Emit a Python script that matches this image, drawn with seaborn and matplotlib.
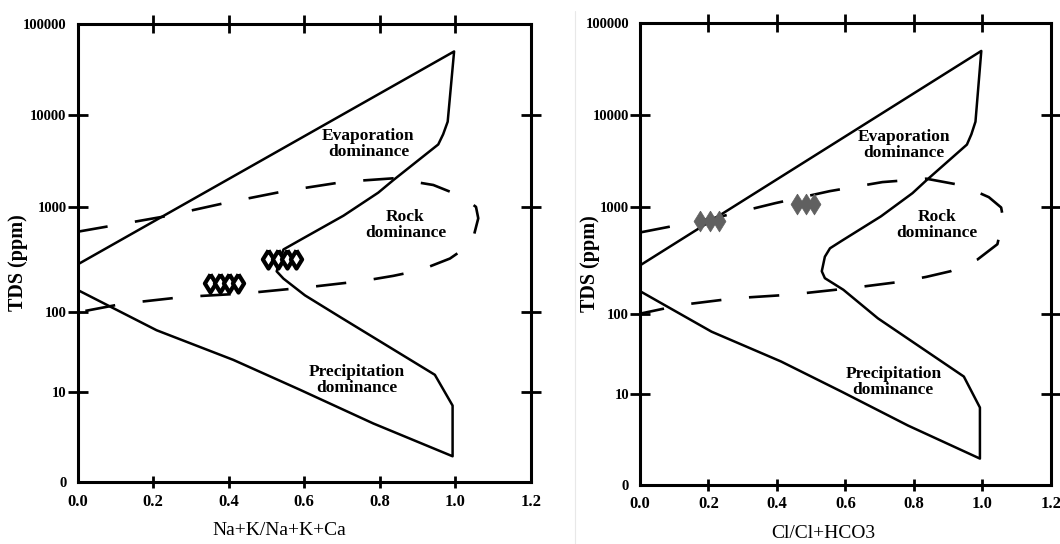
import numpy as np
import matplotlib
matplotlib.use('Agg')
import matplotlib.pyplot as plt
import seaborn as sns

# Gibbs envelope (same template in both panels, only the nose differs)
upper_x = [0.0, 0.997, 0.98, 0.968, 0.955, 0.836, 0.796, 0.704, 0.589]
upper_y = [285, 50000, 8500, 6200, 4800, 1960, 1430, 826, 485]
nose1_x = [0.545, 0.527, 0.545, 0.602]
nose1_y = [395, 245, 209, 145]
nose2_x = [0.555, 0.540, 0.531, 0.540, 0.594]
nose2_y = [413, 344, 251, 216, 168]
lower_x = [0.695, 0.946, 0.993, 0.993, 0.783, 0.589, 0.412, 0.209, 0.0]
lower_y = [87.5, 16.5, 7.1, 1.95, 4.5, 10.7, 25.4, 59.7, 163]

# rock dominance (dashed) boundary
dash_x = [0.0, 0.086, 0.227, 0.395, 0.554, 0.708, 0.836, 0.942, 1.019, 1.055, 1.061,
          1.044, 0.986, 0.907, 0.836, 0.757, 0.615, 0.439, 0.280, 0.121, 0.0]
dash_y = [582, 659, 809, 1114, 1503, 1884, 2051, 1734, 1294, 1000, 780,
          451, 324, 251, 222, 199, 174, 151, 140, 121, 100]

# samples
na_x1 = [0.351, 0.377, 0.402, 0.425]
na_y1 = [190, 190, 190, 190]
na_x2 = [0.505, 0.530, 0.554, 0.577]
na_y2 = [318, 318, 318, 318]
cl_x1 = [0.175, 0.204, 0.232]
cl_y1 = [749, 749, 749]
cl_x2 = [0.459, 0.484, 0.507]
cl_y2 = [1092, 1092, 1092]

xticks = [0.0, 0.2, 0.4, 0.6, 0.8, 1.0, 1.2]
xlabels = ['0.0', '0.2', '0.4', '0.6', '0.8', '1.0', '1.2']
yticks = [1, 10, 100, 1000, 10000, 100000]
ylabels = ['0', '10', '100', '1000', '10000', '100000']

regions = [('Evaporation\ndominance', 0.77, 4800),
           ('Rock\ndominance', 0.868, 680),
           ('Precipitation\ndominance', 0.74, 14.3)]

# the original diagram has uneven decade spacing
LOGS = [0, 1, 2, 3, 4, 5]
POS = [0, 0.197, 0.371, 0.601, 0.801, 1.0]


def fwd(v):
    v = np.clip(np.asarray(v, dtype=float), 1e-6, None)
    return np.interp(np.log10(v), LOGS, POS)


def inv(p):
    return 10 ** np.interp(p, POS, LOGS)


# a diamond a bit fatter than matplotlib's 'd'
diamond = [(0, 1), (0.62, 0), (0, -1), (-0.62, 0), (0, 1)]

sns.set_style('white')
plt.rcParams['font.family'] = ['Liberation Serif', 'DejaVu Serif']
plt.rcParams['text.color'] = 'black'
plt.rcParams['axes.labelcolor'] = 'black'

fig = plt.figure(figsize=(10.6, 5.44), dpi=100)
ax1 = fig.add_axes([0.0733, 0.1131, 0.4274, 0.8428])
ax2 = fig.add_axes([0.6038, 0.1085, 0.3875, 0.8487])

panels = [(ax1, nose1_x, nose1_y, 'Na+K/Na+K+Ca', -0.109),
          (ax2, nose2_x, nose2_y, 'Cl/Cl+HCO3', -0.097)]

for ax, nx, ny, xlab, ylab_x in panels:
    ax.set_yscale('function', functions=(fwd, inv))
    env_x = upper_x + nx + lower_x
    env_y = upper_y + ny + lower_y
    sns.lineplot(x=env_x, y=env_y, sort=False, estimator=None, color='black',
                 linewidth=1.8, ax=ax)
    sns.lineplot(x=dash_x, y=dash_y, sort=False, estimator=None, color='black',
                 linewidth=1.9, linestyle=(0, (11.5, 10.5)), ax=ax)
    for txt, tx, ty in regions:
        ax.text(tx, ty, txt, ha='center', va='center', fontsize=12.5,
                fontweight='bold', linespacing=1.0, color='black')

    ax.set_xlim(0, 1.2)
    ax.set_ylim(1, 100000)
    ax.set_xticks(xticks, xlabels, fontsize=12, fontweight='bold')
    ax.set_yticks(yticks, ylabels, fontsize=10.5, fontweight='bold')
    ax.yaxis.set_minor_locator(matplotlib.ticker.NullLocator())
    ax.tick_params(axis='y', direction='inout', length=15, width=2,
                   left=True, right=True, pad=0.5, colors='black')
    ax.tick_params(axis='x', direction='inout', length=8.5, width=2,
                   bottom=True, top=True, pad=4, colors='black')
    for sp in ax.spines.values():
        sp.set_linewidth(2.2)
        sp.set_color('black')

    ax.set_xlabel(xlab, fontsize=14)
    ax.xaxis.set_label_coords(0.4455, -0.086)
    ax.set_ylabel('TDS (ppm)', fontsize=14.5, fontweight='bold')
    ax.yaxis.set_label_coords(ylab_x, 0.48)

    yt = ax.yaxis.get_major_ticks()
    xt = ax.xaxis.get_major_ticks()
    for t in xt:
        t.tick2line.set_markersize(13)
    for t in (yt[0], yt[-1], xt[0], xt[-1]):
        t.tick1line.set_visible(False)
        t.tick2line.set_visible(False)

for gx, gy in [(na_x1, na_y1), (na_x2, na_y2)]:
    sns.scatterplot(x=gx, y=gy, marker=diamond, s=170, color='white',
                    edgecolor='black', linewidth=3, zorder=3, ax=ax1)
for gx, gy in [(cl_x1, cl_y1), (cl_x2, cl_y2)]:
    sns.scatterplot(x=gx, y=gy, marker=diamond, s=225, color='#606060',
                    edgecolor='#606060', linewidth=0.5, zorder=3, ax=ax2)

fig.add_artist(plt.Line2D([0.5425, 0.5425], [0.0, 0.98], color='#e8e8e8', lw=0.8))

fig.savefig('out.png', dpi=100)
